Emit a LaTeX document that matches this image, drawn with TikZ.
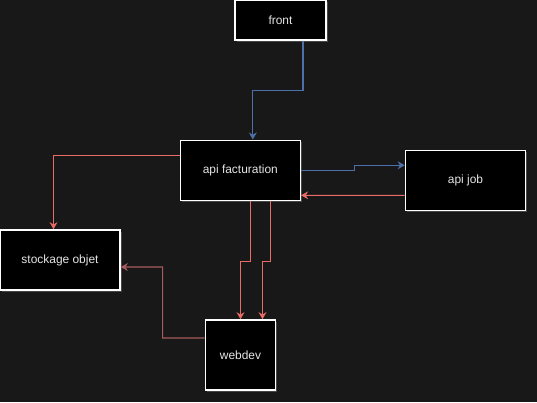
\documentclass[tikz,border=0pt]{standalone}
\usepackage{fontspec}
\setmainfont{Liberation Sans}
\usetikzlibrary{arrows.meta, positioning, shadows}
\definecolor{Canvas}{HTML}{181818}
\definecolor{LinkBlue}{HTML}{4D70AA}
\definecolor{LinkRed}{HTML}{EA6B66}
\definecolor{DimRed}{HTML}{A65C5C}
\definecolor{Label}{HTML}{E6E6E6}

\begin{document}
\begin{tikzpicture}[x=0.02cm, y=-0.02cm,
    svc/.style={rectangle, draw=white, line width=0.9pt, fill=black, text=Label,
                font=\fontsize{6.8}{8}\selectfont, inner sep=0pt,
                drop shadow={shadow xshift=1pt, shadow yshift=-1pt, fill=white, opacity=0.2}},
    link/.style={line width=0.6pt, -{Stealth[length=4pt, width=4.5pt]}}]
    % Canvas
    \fill[Canvas] (0,0) rectangle (537,402);
    \useasboundingbox (0,0) rectangle (537,402);

    % Services
    \node[svc, minimum width=1.82cm, minimum height=0.8cm] (front) at (280.5,20) {front};
    \node[svc, minimum width=2.4cm, minimum height=1.2cm] (api) at (240.3,170.3) {api facturation};
    \node[svc, minimum width=2.4cm, minimum height=1.2cm] (job) at (465.5,180.3) {api job};
    \node[svc, minimum width=2.4cm, minimum height=1.2cm] (stock) at (60,260) {stockage objet};
    \node[svc, minimum width=1.4cm, minimum height=1.4cm] (webdev) at (240.5,355) {webdev};

    % Links
    \draw[link, LinkBlue] ([xshift=0.45cm]front.south) -- ++(0,50) -| ([xshift=0.25cm]api.north);
    \draw[link, LinkRed] ([yshift=0.3cm]api.west) -| ([xshift=-0.13cm]stock.north);
    \draw[link, LinkBlue] (api.east) -- ++(53,0) |- ([yshift=0.3cm]job.west);
    \draw[link, LinkRed] ([yshift=-0.3cm]job.west) -- ([yshift=-0.5cm]api.east);
    \draw[link, LinkRed] ([xshift=0.2cm]api.south) -- ++(0,60) -| (webdev.north);
    \draw[link, LinkRed] ([xshift=0.6cm]api.south) -- ++(0,60) -| ([xshift=0.44cm]webdev.north);
    \draw[link, DimRed] ([yshift=0.34cm]webdev.west) -| ++(-42,-71) -- ([yshift=-0.14cm]stock.east);
\end{tikzpicture}
\end{document}
